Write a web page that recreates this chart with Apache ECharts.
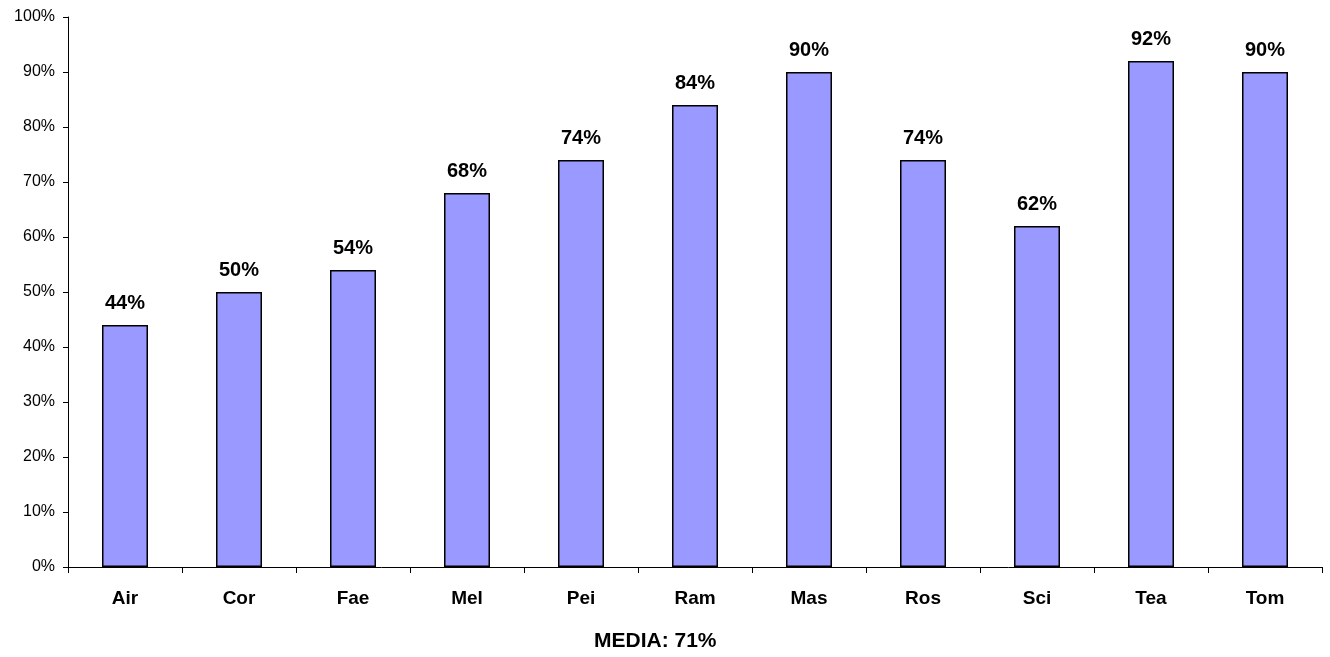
<!DOCTYPE html>
<html>
<head>
<meta charset="utf-8">
<script src="https://cdn.jsdelivr.net/npm/echarts@6/dist/echarts.min.js"></script>
<style>
  html, body { margin: 0; padding: 0; background: #fff; }
  #chart { width: 1330px; height: 657px; }
</style>
</head>
<body>
<div id="chart"></div>
<script>
// Share per participant (percent)
const categories = ['Air', 'Cor', 'Fae', 'Mel', 'Pei', 'Ram', 'Mas', 'Ros', 'Sci', 'Tea', 'Tom'];
const values = [44, 50, 54, 68, 74, 84, 90, 74, 62, 92, 90];
const averageText = 'MEDIA: 71%';

const FONT = '"Liberation Sans", Arial, sans-serif';

const chart = echarts.init(document.getElementById('chart'), null, { renderer: 'canvas' });

chart.setOption({
  animation: false,
  backgroundColor: '#ffffff',
  grid: { left: 68, right: 8, top: 17, bottom: 90, containLabel: false },
  graphic: [{
    type: 'text',
    left: 594,
    top: 631,
    style: {
      text: averageText,
      font: 'bold 21px ' + FONT,
      fill: '#000'
    }
  }],
  xAxis: {
    type: 'category',
    data: categories,
    axisLine: { lineStyle: { color: '#000', width: 1 } },
    axisTick: { show: true, length: 6, alignWithLabel: false, lineStyle: { color: '#000' } },
    axisLabel: {
      color: '#000',
      fontFamily: FONT,
      fontWeight: 'bold',
      fontSize: 19,
      margin: 22
    },
    splitLine: { show: false }
  },
  yAxis: {
    type: 'value',
    min: 0,
    max: 100,
    interval: 10,
    axisLine: { show: true, lineStyle: { color: '#000', width: 1 } },
    axisTick: { show: true, length: 5, lineStyle: { color: '#000' } },
    axisLabel: {
      color: '#000',
      fontFamily: FONT,
      fontSize: 16,
      margin: 13,
      formatter: '{value}%'
    },
    splitLine: { show: false }
  },
  series: [{
    type: 'bar',
    data: values,
    barWidth: 46,
    itemStyle: { color: '#9999FF', borderColor: '#000', borderWidth: 1.5 },
    label: {
      show: true,
      position: 'top',
      distance: 12,
      color: '#000',
      fontFamily: FONT,
      fontWeight: 'bold',
      fontSize: 20,
      formatter: '{c}%'
    }
  }]
});
</script>
</body>
</html>
